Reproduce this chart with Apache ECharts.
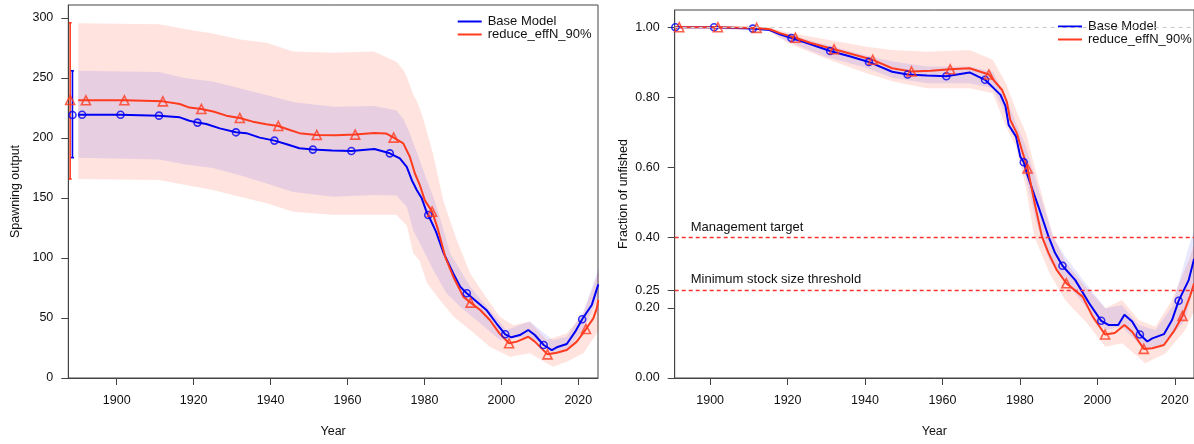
<!DOCTYPE html>
<html><head><meta charset="utf-8">
<script src="https://cdn.jsdelivr.net/npm/echarts@6/dist/echarts.min.js"></script>
<style>html,body{margin:0;padding:0;background:#fff}#c{width:1194px;height:444px}</style>
</head><body><div id="c"></div>
<script>
// ---------- tick labels / names ----------
const xTicks = [1900, 1920, 1940, 1960, 1980, 2000, 2020];
const soTicks = [0, 50, 100, 150, 200, 250, 300];
const fracTicks = [0, 0.2, 0.25, 0.4, 0.6, 0.8, 1.0];
const modelNames = ['Base Model', 'reduce_effN_90%'];
const refLines = [
  { value: 1.0, label: '' },
  { value: 0.4, label: 'Management target' },
  { value: 0.25, label: 'Minimum stock size threshold' }
];

// ---------- Spawning output (left panel) ----------
const baseSO = [[1890,219.4],[1891,219.4],[1901,219.4],[1911,218.6],[1916.4,217.2],[1918.9,214.4],[1921,212.8],[1923.3,211.7],[1926.8,208],[1931,204.7],[1933.7,204],[1937.2,200.3],[1941,197.8],[1944,195],[1947.5,191.4],[1951,190.3],[1956,189.5],[1961,189.2],[1967,190.8],[1971,187.2],[1973.6,183],[1975.4,176],[1976.7,165],[1978,156.7],[1979.3,149.7],[1980.6,138],[1981,135.8],[1983,122],[1985,104],[1987.5,87.2],[1989.3,76],[1991,70.6],[1993.6,63.6],[1996.1,56.7],[1998.7,45.6],[2001,36.4],[2002.6,33.9],[2004.8,35.8],[2007,40],[2008.7,35.8],[2011,27.5],[2013.1,23.3],[2014.4,25.6],[2017,28.3],[2019.2,38.6],[2021,48.9],[2023.5,60.8],[2024.6,72],[2025.2,78]];
const redSO = [[1890,231.4],[1892,231.4],[1902,231.4],[1912,230.5],[1916.4,228.3],[1918.9,225.3],[1922,224.2],[1925.1,222],[1928.5,218.6],[1932,216.7],[1935.4,213.6],[1938.9,211.4],[1942,210],[1945,206.7],[1947.5,204],[1952,202.5],[1957,202.3],[1962,202.8],[1967,204.2],[1970,203.8],[1972,200.3],[1974.5,195.5],[1976.2,184.4],[1977.5,170.6],[1978.8,160.8],[1980.1,148],[1982,138.6],[1983.5,124],[1985.4,101],[1987.5,84.4],[1990.1,67.8],[1992,62.8],[1994.5,56.7],[1997,48.3],[1999.5,37.2],[2002,28.9],[2004,30.3],[2007,34.4],[2008.7,30.3],[2012,19.7],[2014.4,21.1],[2017,23.3],[2019.6,30.3],[2022,40.8],[2023.9,49.7],[2024.8,58],[2025.2,65]];
const redSOUpper = [[1890,295.6],[1911,294.7],[1918,290.5],[1925,287],[1932,282],[1939,279.4],[1945.8,272],[1956.3,271],[1966.8,272],[1972.7,263.6],[1974.5,256.7],[1975.4,251],[1977.1,236],[1978,231],[1979.7,216],[1982.3,186],[1984.9,148],[1988.4,115],[1991.9,87],[1995.3,70.6],[1999.6,51],[2003.1,44],[2007.4,47],[2011.8,31.7],[2017,37],[2021.3,54],[2024.8,84],[2025.3,90]];
const redSOLower = [[1890,165.8],[1911,165],[1918,160.8],[1925,156.7],[1932,151],[1939,145.6],[1945.8,138.6],[1956.3,136],[1966.8,136],[1972.7,136],[1975.4,127],[1977.1,104],[1978.7,98],[1980.7,79],[1984,65],[1987.6,51],[1991.9,40],[1997,26],[2002.2,17.8],[2007.4,20.6],[2013.4,9.4],[2017,13.6],[2021.3,20.6],[2024.8,37],[2025.3,40]];
const baseSOUpper = [[1890,256],[1911,255],[1918,249.7],[1925,247],[1932,241.4],[1939,235.8],[1945.8,230],[1956.3,226],[1966.8,226.7],[1972.7,223],[1974.5,216],[1976.2,204],[1978.5,184],[1980.6,165],[1982.3,151],[1984,134],[1986.7,104],[1991.9,76],[1997,56.7],[2001.3,40],[2007.4,47],[2013.4,31.7],[2017,34.4],[2021.3,55],[2024.8,87],[2025.3,92]];
const baseSOLower = [[1890,183.6],[1911,182],[1918,178],[1925,175],[1932,169],[1939,162],[1945.8,155],[1956.3,151],[1966.8,152.5],[1972.7,152],[1975.4,142.7],[1977.1,123],[1979.7,106.7],[1982.3,90],[1985.7,70.6],[1989.3,59.4],[1993.6,48],[1999.6,31.7],[2007.4,34.4],[2013.4,20.6],[2017,23.3],[2021.3,40],[2024.8,65],[2025.3,68]];
// virgin (unfished) estimate with interval: [year, value, low, high]
const baseVirgin = [1888.5, 219.2, 183.6, 256];
const redVirgin = [1887.9, 231.7, 165.8, 296];

// ---------- Fraction of unfished (right panel) ----------
const baseFrac = [[1891,1.0],[1901,1.0],[1911,0.996],[1915.4,0.992],[1918,0.98],[1921,0.969],[1925,0.955],[1931,0.932],[1936,0.917],[1941,0.901],[1947,0.873],[1951,0.865],[1956,0.862],[1961,0.860],[1967,0.871],[1971,0.850],[1975,0.807],[1976.3,0.774],[1977.1,0.721],[1979,0.688],[1980.1,0.631],[1981,0.615],[1981.8,0.583],[1984.8,0.488],[1987.4,0.403],[1989.1,0.356],[1991,0.320],[1994.3,0.279],[1997.9,0.213],[2001,0.163],[2003,0.151],[2005.4,0.151],[2007,0.180],[2009,0.161],[2011,0.124],[2012.9,0.104],[2014.2,0.113],[2017.2,0.125],[2019.3,0.165],[2021,0.220],[2023.6,0.279],[2025,0.34]];
const redFrac = [[1891,1.0],[1892,1.0],[1902,1.0],[1912,0.998],[1915.4,0.994],[1918,0.983],[1922,0.970],[1926,0.955],[1932,0.937],[1937,0.922],[1942,0.907],[1947,0.883],[1952,0.874],[1957,0.876],[1962,0.880],[1967,0.883],[1972,0.865],[1975.4,0.821],[1976.6,0.788],[1977.5,0.736],[1979.2,0.698],[1980.5,0.650],[1982,0.597],[1984,0.488],[1985.7,0.403],[1987.4,0.356],[1989.5,0.308],[1992,0.270],[1996.2,0.232],[1998.8,0.175],[2002,0.124],[2004.5,0.128],[2007,0.151],[2009,0.132],[2012,0.083],[2014.2,0.085],[2017.2,0.094],[2019.7,0.132],[2022,0.177],[2024,0.235],[2025,0.27]];
const redFracUpper = [[1891,1.0],[1915,1.0],[1920,0.985],[1930,0.965],[1940,0.945],[1947,0.935],[1956,0.93],[1967,0.935],[1973,0.907],[1976.4,0.84],[1979,0.764],[1981.6,0.698],[1985,0.55],[1988.4,0.41],[1991.8,0.33],[1997,0.26],[2002.1,0.199],[2006.4,0.222],[2010.7,0.165],[2015,0.146],[2019.3,0.222],[2023.6,0.336],[2025,0.38]];
const redFracLower = [[1891,1.0],[1915,0.99],[1920,0.955],[1930,0.91],[1940,0.87],[1947.2,0.845],[1956,0.826],[1967,0.826],[1973,0.812],[1976.4,0.717],[1979,0.66],[1981.6,0.54],[1983.7,0.403],[1987.6,0.30],[1991.8,0.22],[1997,0.16],[2002.1,0.089],[2006.4,0.099],[2012.4,0.042],[2017.6,0.070],[2022.7,0.137],[2025,0.19]];
const baseFracUpper = [[1891,1.0],[1915,0.995],[1920,0.98],[1930,0.95],[1940,0.92],[1947.2,0.902],[1956,0.888],[1967,0.888],[1973,0.873],[1976.4,0.802],[1979,0.726],[1981.6,0.66],[1985,0.53],[1988.7,0.40],[1991.8,0.345],[1997,0.27],[2002.1,0.199],[2006.4,0.208],[2010.7,0.151],[2015,0.137],[2019.3,0.203],[2023.6,0.374],[2025,0.42]];
const baseFracLower = [[1891,1.0],[1915,0.99],[1920,0.96],[1930,0.915],[1940,0.885],[1947.2,0.855],[1956,0.84],[1967,0.84],[1973,0.826],[1976.4,0.75],[1979,0.679],[1981.6,0.57],[1984.1,0.45],[1985.5,0.40],[1987.6,0.335],[1991.8,0.275],[1997,0.203],[2002.1,0.137],[2006.4,0.146],[2012.4,0.080],[2017.6,0.099],[2022.7,0.165],[2025,0.26]];

const baseMarkerYears = [1891,1901,1911,1921,1931,1941,1951,1961,1971,1981,1991,2001,2011,2021];
const redMarkerYears = [1892,1902,1912,1922,1932,1942,1952,1962,1972,1982,1992,2002,2012,2022];

// ---------- styling ----------
const BLUE = '#0000F5', RED = '#FF3B1F';
const PINK_FILL = 'rgba(255,60,30,0.14)', BLUE_FILL = 'rgba(0,0,255,0.09)';
const FONT = 'Liberation Sans, Arial, sans-serif';
const AXC = '#444';

function pick(arr, years) { return arr.filter(p => years.includes(p[0])); }

function band(up, lo, fill, gi) {
  return {
    type: 'custom', xAxisIndex: gi, yAxisIndex: gi, silent: true, clip: true, z: 1,
    data: [up[0]],
    renderItem: (params, api) => {
      const pts = up.map(p => api.coord(p)).concat(lo.slice().reverse().map(p => api.coord(p)));
      return { type: 'polygon', shape: { points: pts }, style: { fill: fill } };
    }
  };
}
function line(name, data, color, gi) {
  return { type: 'line', name: name, xAxisIndex: gi, yAxisIndex: gi, data: data, color: color,
    symbol: 'none', lineStyle: { width: 2, color: color }, z: 3, clip: true };
}
function markers(name, data, color, symbol, size, gi) {
  return { type: 'scatter', name: name, xAxisIndex: gi, yAxisIndex: gi, data: data, symbol: symbol,
    symbolSize: size, itemStyle: { color: 'rgba(0,0,0,0)', borderColor: color, borderWidth: 1.6 }, z: 4, silent: true };
}
function errBar(v, color) {
  return { type: 'custom', xAxisIndex: 0, yAxisIndex: 0, silent: true, z: 3, data: [v],
    renderItem: (params, api) => {
      const top = api.coord([api.value(0), api.value(3)]);
      const bot = api.coord([api.value(0), api.value(2)]);
      const st = { stroke: color, lineWidth: 1.6 };
      return { type: 'group', children: [
        { type: 'line', shape: { x1: top[0], y1: top[1], x2: bot[0], y2: bot[1] }, style: st },
        { type: 'line', shape: { x1: top[0] - 1.5, y1: top[1], x2: top[0] + 1.5, y2: top[1] }, style: st },
        { type: 'line', shape: { x1: bot[0] - 1.5, y1: bot[1], x2: bot[0] + 1.5, y2: bot[1] }, style: st }
      ]};
    }
  };
}

const axisCommonX = (min, max) => ({
  type: 'value', min: min, max: max, name: 'Year', nameLocation: 'middle', nameGap: 47,
  nameTextStyle: { fontFamily: FONT, fontSize: 12.5, color: '#111' },
  axisLine: { show: true, lineStyle: { color: AXC, width: 1 } },
  axisTick: { show: true, length: 7, customValues: xTicks, lineStyle: { color: AXC } },
  axisLabel: { customValues: xTicks, margin: 16, fontFamily: FONT, fontSize: 12.5, color: '#111',
    formatter: v => String(Math.round(v)) },
  splitLine: { show: false }
});

const legendCommon = (left, top) => ({
  data: modelNames, orient: 'vertical', left: left, top: top, icon: 'rect',
  itemWidth: 24, itemHeight: 2, itemGap: 0, selectedMode: false,
  textStyle: { fontFamily: FONT, fontSize: 13, color: '#111', lineHeight: 13, padding: [0, 0, 0, 1] }
});

const option = {
  animation: false,
  backgroundColor: '#fff',
  grid: [
    { left: 68.3, right: 1194 - 598, top: 5, bottom: 444 - 378, show: true, borderColor: AXC, borderWidth: 1, backgroundColor: 'transparent' },
    { left: 674.7, right: -2, top: 10, bottom: 444 - 378, show: true, borderColor: AXC, borderWidth: 1, backgroundColor: 'transparent' }
  ],
  legend: [legendCommon(452.7, 10), legendCommon(1053, 15)],
  xAxis: [
    Object.assign(axisCommonX(1887.42, 2025.12), { gridIndex: 0 }),
    Object.assign(axisCommonX(1890.84, 2024.97), { gridIndex: 1 })
  ],
  yAxis: [
    { gridIndex: 0, type: 'value', min: 0, max: 310.8, name: 'Spawning output', nameLocation: 'middle', nameGap: 46,
      nameTextStyle: { fontFamily: FONT, fontSize: 12.5, color: '#111' },
      axisLine: { show: true, lineStyle: { color: AXC, width: 1 } },
      axisTick: { show: true, length: 7, customValues: soTicks, lineStyle: { color: AXC } },
      axisLabel: { customValues: soTicks, margin: 15, fontFamily: FONT, fontSize: 12.5, color: '#111',
        formatter: v => String(Math.round(v)) },
      splitLine: { show: false } },
    { gridIndex: 1, type: 'value', min: 0, max: 1.049, name: 'Fraction of unfished', nameLocation: 'middle', nameGap: 45,
      nameTextStyle: { fontFamily: FONT, fontSize: 12.5, color: '#111' },
      axisLine: { show: true, lineStyle: { color: AXC, width: 1 } },
      axisTick: { show: true, length: 7, customValues: fracTicks, lineStyle: { color: AXC } },
      axisLabel: { customValues: fracTicks, margin: 15, fontFamily: FONT, fontSize: 12.5, color: '#111',
        formatter: v => Number(v).toFixed(2) },
      splitLine: { show: false } }
  ],
  series: [
    line(modelNames[0], baseSO, BLUE, 0),
    line(modelNames[1], redSO, RED, 0),
    line(modelNames[0], baseFrac, BLUE, 1),
    line(modelNames[1], redFrac, RED, 1),
    band(redSOUpper, redSOLower, PINK_FILL, 0),
    band(baseSOUpper, baseSOLower, BLUE_FILL, 0),
    band(redFracUpper, redFracLower, PINK_FILL, 1),
    band(baseFracUpper, baseFracLower, BLUE_FILL, 1),
    markers('base pts', pick(baseSO, baseMarkerYears).concat([[baseVirgin[0], baseVirgin[1]]]), BLUE, 'circle', 7, 0),
    markers('red pts', pick(redSO, redMarkerYears).concat([[redVirgin[0], redVirgin[1]]]), RED, 'triangle', 9, 0),
    markers('base pts f', pick(baseFrac, baseMarkerYears), BLUE, 'circle', 7, 1),
    markers('red pts f', pick(redFrac, redMarkerYears), RED, 'triangle', 9, 1),
    errBar(redVirgin, RED),
    errBar(baseVirgin, BLUE),
    { type: 'line', name: 'refs', xAxisIndex: 1, yAxisIndex: 1, data: [], silent: true, z: 2,
      markLine: { symbol: ['none', 'none'], silent: true, animation: false,
        data: refLines.map(r => ({
          yAxis: r.value,
          lineStyle: r.value === 1.0 ? { color: '#c8c8c8', type: [4, 4], width: 1 } : { color: '#FF3030', type: [4, 3], width: 1.3 },
          label: r.label ? { show: true, position: 'insideStartTop', formatter: r.label, distance: [16, 4],
            fontFamily: FONT, fontSize: 13, color: '#111' } : { show: false }
        })) } }
  ]
};
const chart = echarts.init(document.getElementById('c'), null, { renderer: 'canvas' });
chart.setOption(option);
</script>
</body></html>
